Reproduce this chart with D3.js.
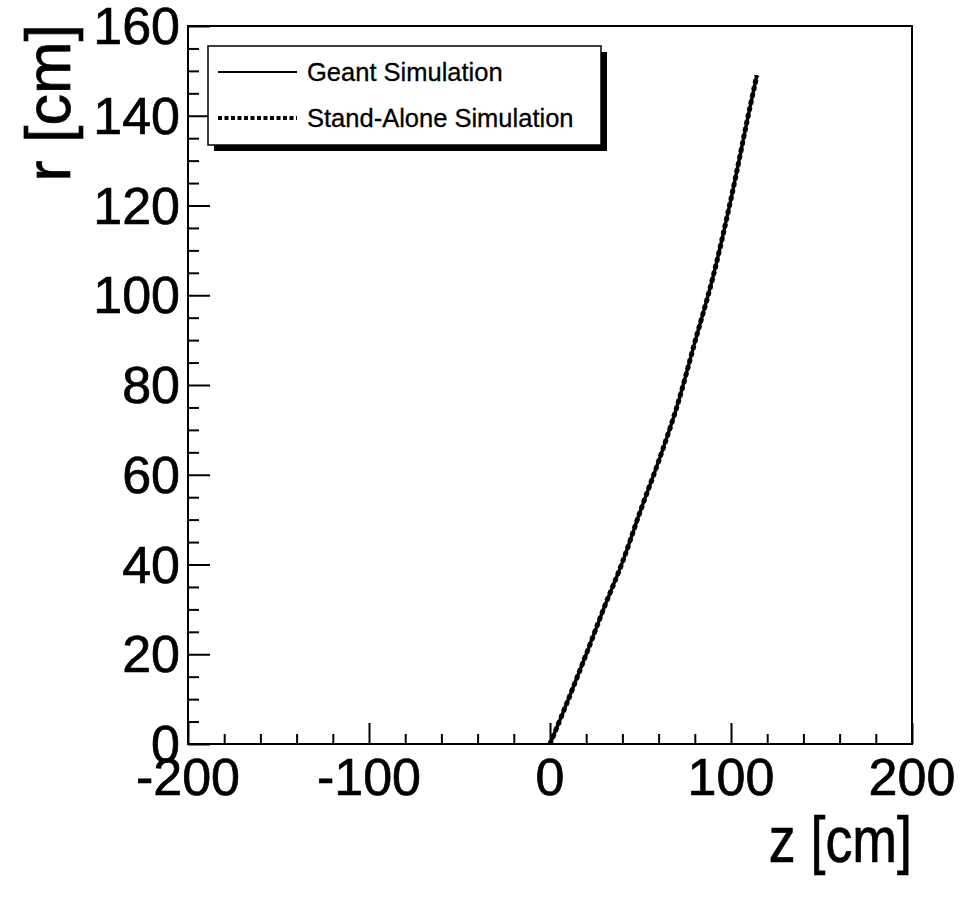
<!DOCTYPE html>
<html>
<head>
<meta charset="utf-8">
<script src="https://cdn.jsdelivr.net/npm/d3@7"></script>
<style>
  html, body { margin: 0; padding: 0; background: #fff; }
  svg { display: block; }
  text { font-family: "Liberation Sans", Arial, Helvetica, sans-serif; fill: #000; }
</style>
</head>
<body>
<svg id="chart" width="965" height="899"></svg>
<script>
// Track trajectory in the r-z plane: z [cm] vs r [cm]
const geantZ = [0, 10, 20, 30, 40, 50, 60, 70, 80, 90, 100, 110, 114.3];
const geantR = [0, 9.8, 20, 30.5, 40.5, 52, 63, 75, 89.5, 104, 121.5, 141, 149];
const standAloneZ = [0, 10, 20, 30, 40, 50, 60, 70, 80, 90, 100, 110, 114.3];
const standAloneR = [0, 9.8, 20, 30.5, 40.5, 52, 63, 75, 89.5, 104, 121.5, 141, 149];

const xTickValues = [-200, -100, 0, 100, 200];
const yTickValues = [0, 20, 40, 60, 80, 100, 120, 140, 160];
const seriesNames = ["Geant Simulation", "Stand-Alone Simulation"];

const svg = d3.select("#chart");
const frame = { left: 188, right: 912, top: 26, bottom: 744 };

const x = d3.scaleLinear().domain([-200, 200]).range([frame.left, frame.right]);
const y = d3.scaleLinear().domain([0, 160]).range([frame.bottom, frame.top]);

const labelFont = 52;

// Minor ticks
const xMinor = d3.range(-200, 201, 20).filter(v => v % 100 !== 0);
const yMinor = d3.range(0, 161, 5).filter(v => v % 20 !== 0);

const g = svg.append("g");

// Ticks drawn on the inside of the frame
const xAxis = d3.axisBottom(x).tickValues(xTickValues).tickSize(-21).tickFormat("");
const xAxisMinor = d3.axisBottom(x).tickValues(xMinor).tickSize(-10).tickFormat("");
const yAxis = d3.axisLeft(y).tickValues(yTickValues).tickSize(-22).tickFormat("");
const yAxisMinor = d3.axisLeft(y).tickValues(yMinor).tickSize(-11).tickFormat("");

[xAxis, xAxisMinor].forEach(a => {
  g.append("g").attr("transform", `translate(0,${frame.bottom})`).call(a)
    .call(s => s.select(".domain").remove())
    .call(s => s.selectAll("line").attr("stroke", "#000").attr("stroke-width", 2));
});
[yAxis, yAxisMinor].forEach(a => {
  g.append("g").attr("transform", `translate(${frame.left},0)`).call(a)
    .call(s => s.select(".domain").remove())
    .call(s => s.selectAll("line").attr("stroke", "#000").attr("stroke-width", 2));
});

// Frame
g.append("rect")
  .attr("x", frame.left).attr("y", frame.top)
  .attr("width", frame.right - frame.left).attr("height", frame.bottom - frame.top)
  .attr("fill", "none").attr("stroke", "#000").attr("stroke-width", 2);

// Tick labels
g.selectAll(".xlab").data(xTickValues).join("text")
  .attr("x", d => x(d)).attr("y", frame.bottom + 51)
  .attr("text-anchor", "middle").attr("font-size", labelFont)
  .attr("stroke", "#000").attr("stroke-width", 0.7)
  .text(d => d);

g.selectAll(".ylab").data(yTickValues).join("text")
  .attr("x", frame.left - 8).attr("y", d => y(d) + 18)
  .attr("text-anchor", "end").attr("font-size", labelFont)
  .attr("stroke", "#000").attr("stroke-width", 0.7)
  .text(d => d);

// Axis titles
g.append("text")
  .attr("transform", `translate(${frame.right},862) scale(0.84,1)`)
  .attr("text-anchor", "end").attr("font-size", 64)
  .attr("stroke", "#000").attr("stroke-width", 0.7)
  .text("z [cm]");

g.append("text")
  .attr("transform", `translate(70,${frame.top - 2}) rotate(-90)`)
  .attr("text-anchor", "end").attr("font-size", 63)
  .attr("stroke", "#000").attr("stroke-width", 0.7)
  .text("r [cm]");

// Curves
const line = d3.line().x(d => x(d[0])).y(d => y(d[1])).curve(d3.curveCatmullRom);
const geant = geantZ.map((z, i) => [z, geantR[i]]);
const standAlone = standAloneZ.map((z, i) => [z, standAloneR[i]]);

g.append("path").datum(geant).attr("d", line)
  .attr("fill", "none").attr("stroke", "#000").attr("stroke-width", 3.5);
g.append("path").datum(standAlone).attr("d", line)
  .attr("fill", "none").attr("stroke", "#000").attr("stroke-width", 5)
  .attr("stroke-dasharray", "4,3");

// Legend with drop shadow
const leg = { x: 208, y: 46, w: 393, h: 99 };
g.append("rect").attr("x", leg.x + 6).attr("y", leg.y + 6)
  .attr("width", leg.w).attr("height", leg.h).attr("fill", "#000");
g.append("rect").attr("x", leg.x).attr("y", leg.y)
  .attr("width", leg.w).attr("height", leg.h)
  .attr("fill", "#fff").attr("stroke", "#000").attr("stroke-width", 1.5);

const legendRows = [
  { name: seriesNames[0], y: 72, width: 1.8, dash: null },
  { name: seriesNames[1], y: 118, width: 4, dash: "4,2.5" }
];
legendRows.forEach(r => {
  g.append("line").attr("x1", 218).attr("x2", 297).attr("y1", r.y).attr("y2", r.y)
    .attr("stroke", "#000").attr("stroke-width", r.width)
    .attr("stroke-dasharray", r.dash);
  g.append("text").attr("x", 307).attr("y", r.y + 9)
    .attr("font-size", 25.5).attr("stroke", "#000").attr("stroke-width", 0.3)
    .text(r.name);
});
</script>
</body>
</html>
